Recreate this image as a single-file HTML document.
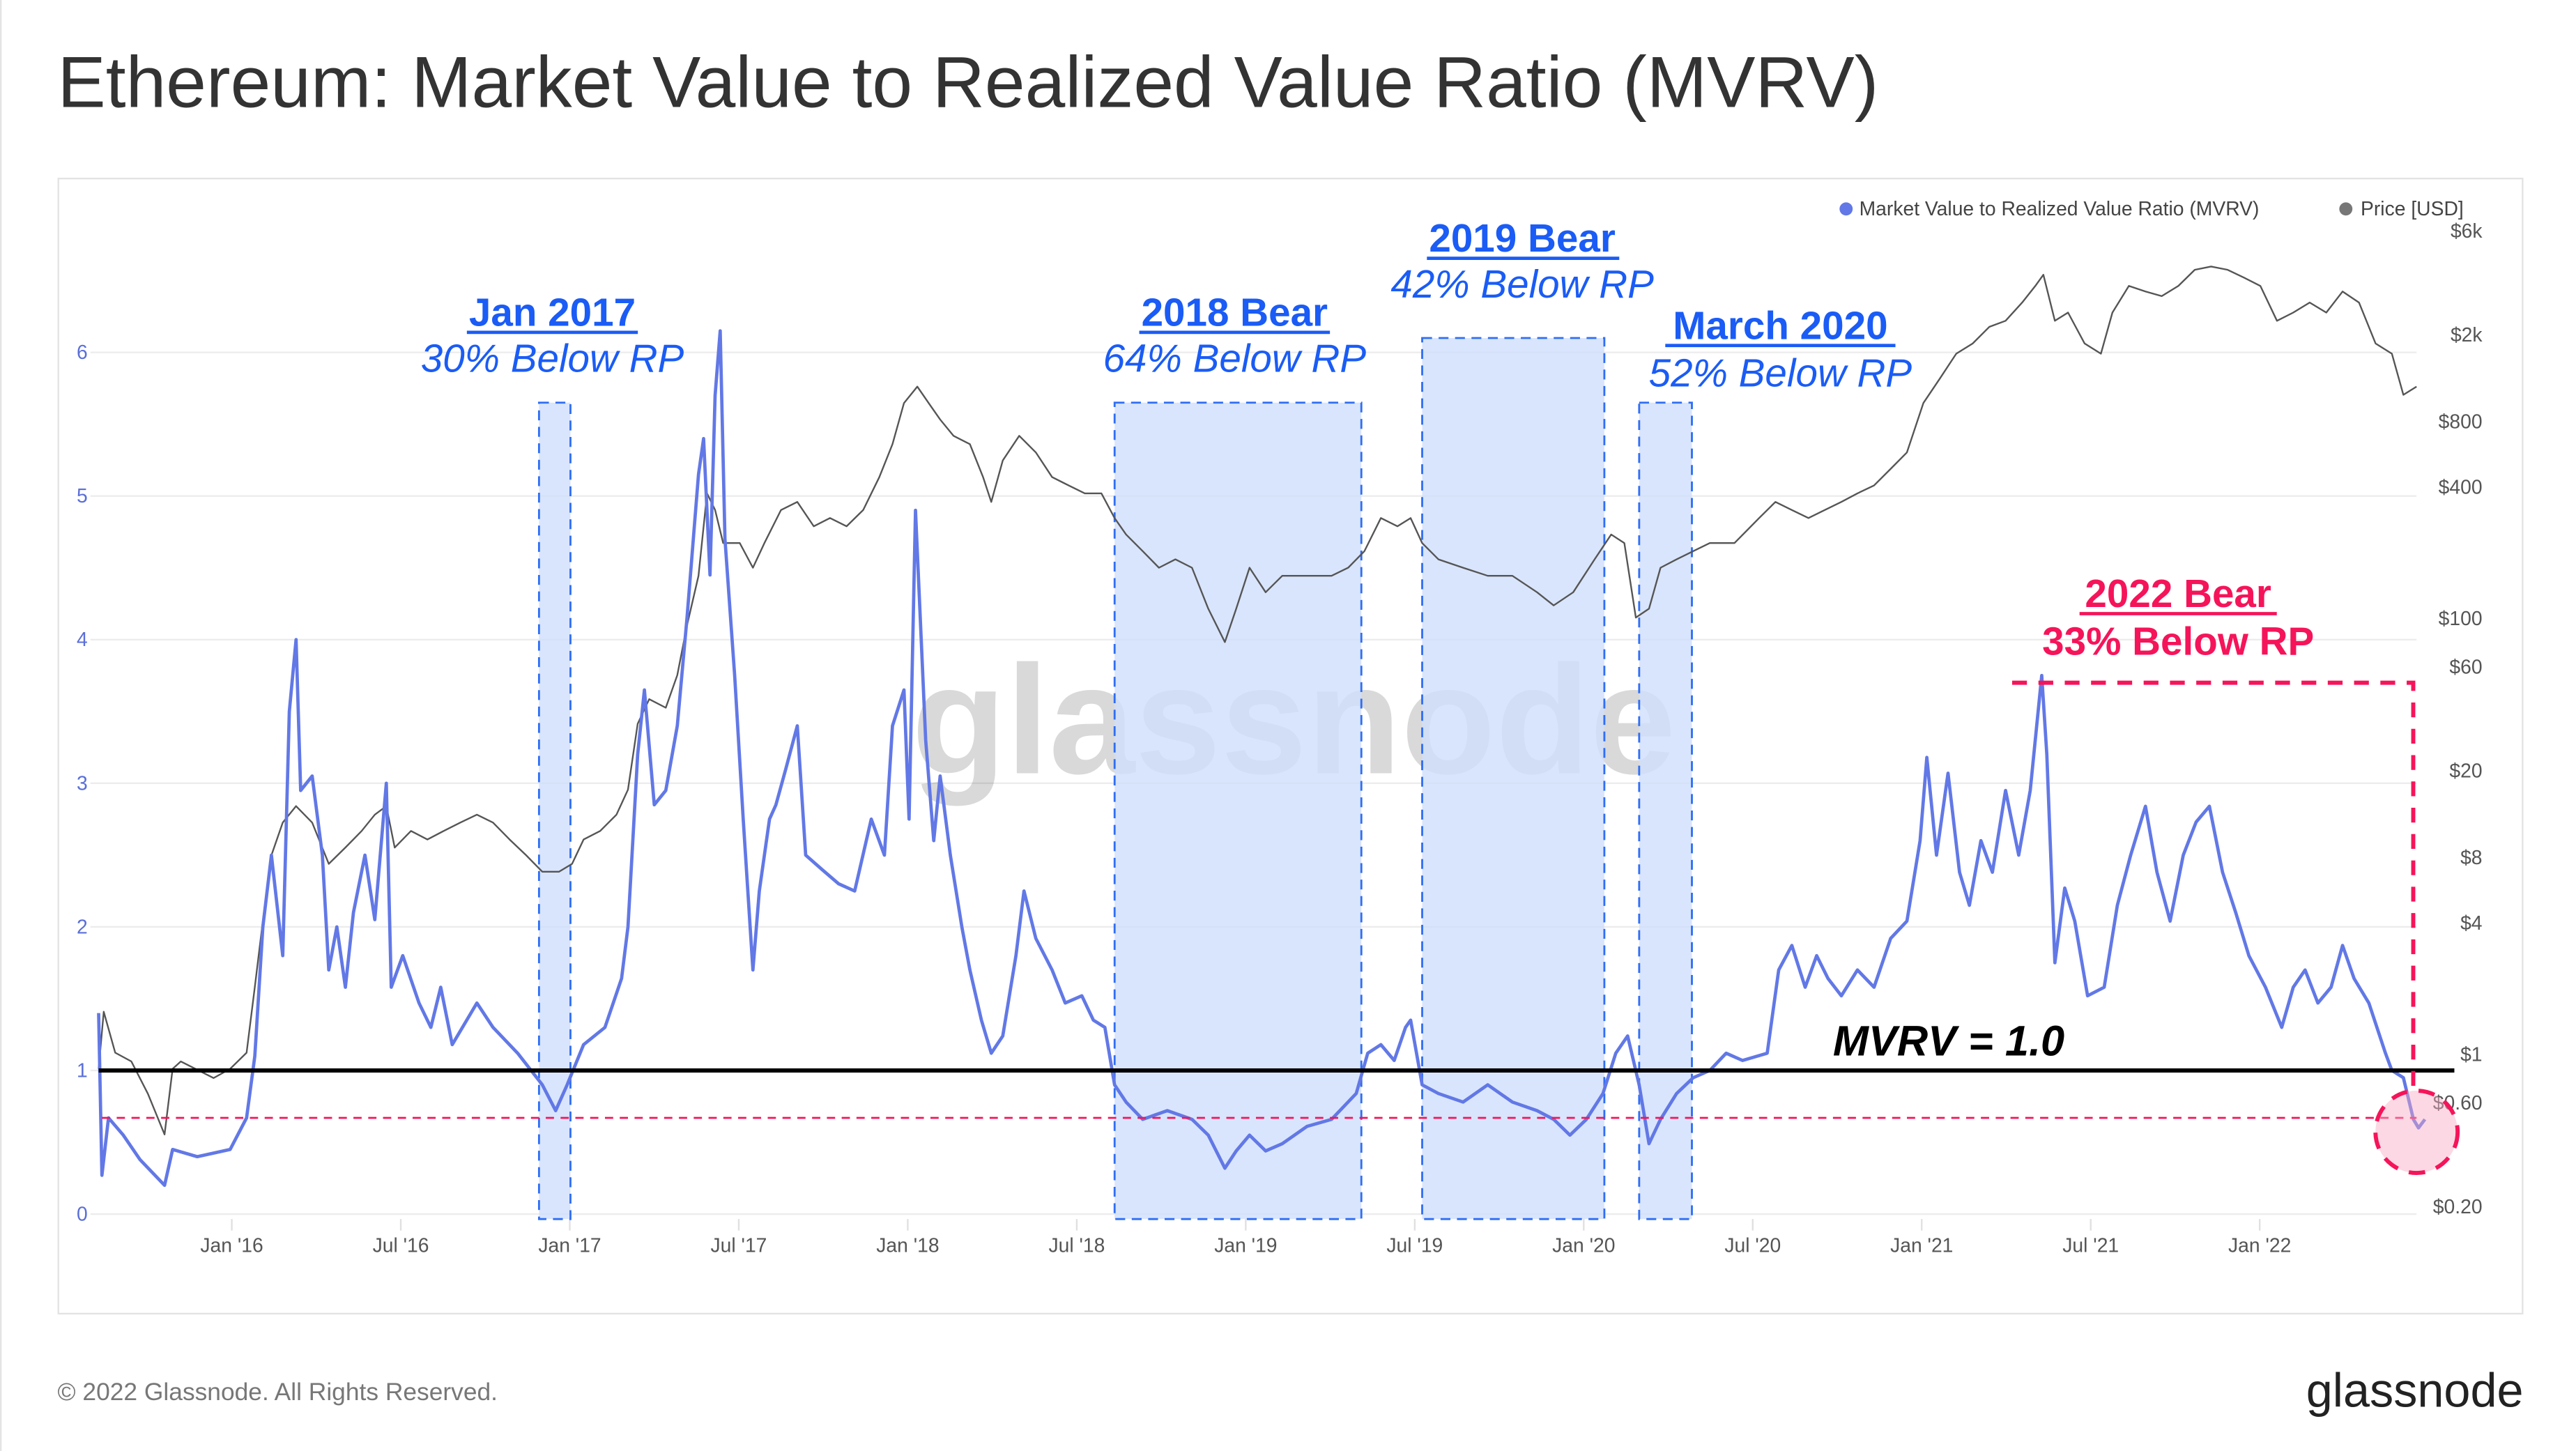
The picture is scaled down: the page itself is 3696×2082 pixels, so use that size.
<!DOCTYPE html>
<html><head><meta charset="utf-8">
<style>
html,body{margin:0;padding:0;background:#fff;}
body{width:3696px;height:2082px;overflow:hidden;}
svg{display:block;font-family:"Liberation Sans",sans-serif;}
</style></head>
<body>
<svg id="chart" width="3696" height="2082" viewBox="0 0 1567 882" preserveAspectRatio="none" xmlns="http://www.w3.org/2000/svg">
<rect x="0" y="0" width="1567" height="882" fill="#fff"/>
<line x1="0.5" y1="0" x2="0.5" y2="882" stroke="#e4e4e4" stroke-width="1"/>
<text x="35" y="65" font-size="44" fill="#333">Ethereum: Market Value to Realized Value Ratio (MVRV)</text>
<rect x="35.5" y="108.5" width="1499" height="690" fill="#fff" stroke="#e3e3e3" stroke-width="1"/>
<g id="grid"></g>
<text x="787" y="470" font-size="94" font-weight="bold" fill="#000" fill-opacity="0.15" text-anchor="middle">glassnode</text>
<g id="boxes"></g>
<g id="series"></g>
<g id="annot">
 <g fill="#1a5cf5" text-anchor="middle" font-size="24">
  <text x="336" y="198" font-weight="bold">Jan 2017</text>
  <line x1="284" y1="202" x2="388" y2="202" stroke="#1a5cf5" stroke-width="2"/>
  <text x="336" y="226" font-style="italic">30% Below RP</text>
 </g>
 <g fill="#1a5cf5" text-anchor="middle" font-size="24">
  <text x="751" y="198" font-weight="bold">2018 Bear</text>
  <line x1="693" y1="202" x2="809" y2="202" stroke="#1a5cf5" stroke-width="2"/>
  <text x="751" y="226" font-style="italic">64% Below RP</text>
 </g>
 <g fill="#1a5cf5" text-anchor="middle" font-size="24">
  <text x="926" y="153" font-weight="bold">2019 Bear</text>
  <line x1="868" y1="157" x2="985" y2="157" stroke="#1a5cf5" stroke-width="2"/>
  <text x="926" y="181" font-style="italic">42% Below RP</text>
 </g>
 <g fill="#1a5cf5" text-anchor="middle" font-size="24">
  <text x="1083" y="206" font-weight="bold">March 2020</text>
  <line x1="1013" y1="210" x2="1153" y2="210" stroke="#1a5cf5" stroke-width="2"/>
  <text x="1083" y="235" font-style="italic">52% Below RP</text>
 </g>
 <g fill="#f5145a" text-anchor="middle" font-size="24" font-weight="bold">
  <text x="1325" y="369">2022 Bear</text>
  <line x1="1265" y1="373" x2="1385" y2="373" stroke="#f5145a" stroke-width="2"/>
  <text x="1325" y="398">33% Below RP</text>
 </g>
</g>
<g id="legend" font-size="12" fill="#444">
 <g><circle cx="1123" cy="127" r="4" fill="#6278e6"/><text x="1131" y="131">Market Value to Realized Value Ratio (MVRV)</text></g>
 <g><circle cx="1427" cy="127" r="4" fill="#777"/><text x="1436" y="131">Price [USD]</text></g>
</g>
<text x="35" y="851" font-size="15" fill="#777">© 2022 Glassnode. All Rights Reserved.</text>
<text x="1535" y="855" font-size="29" fill="#222" text-anchor="end">glassnode</text>
</svg>
<script>
// ---- data ----
const mvrvDates=[2015.606,2015.616,2015.635,2015.679,2015.728,2015.801,2015.825,2015.898,2015.995,2016.044,2016.068,2016.092,2016.117,2016.151,2016.170,2016.190,2016.204,2016.238,2016.268,2016.287,2016.311,2016.336,2016.360,2016.394,2016.423,2016.457,2016.472,2016.506,2016.554,2016.589,2016.618,2016.652,2016.725,2016.773,2016.846,2016.919,2016.958,2016.992,2017.041,2017.104,2017.153,2017.172,2017.201,2017.221,2017.250,2017.284,2017.318,2017.347,2017.381,2017.396,2017.415,2017.430,2017.445,2017.459,2017.488,2017.513,2017.542,2017.561,2017.591,2017.610,2017.639,2017.673,2017.698,2017.746,2017.795,2017.843,2017.892,2017.931,2017.955,2017.989,2018.004,2018.023,2018.038,2018.053,2018.077,2018.096,2018.126,2018.160,2018.184,2018.218,2018.247,2018.281,2018.320,2018.344,2018.379,2018.427,2018.466,2018.515,2018.549,2018.583,2018.612,2018.646,2018.695,2018.768,2018.841,2018.889,2018.938,2018.972,2019.011,2019.059,2019.108,2019.181,2019.254,2019.327,2019.361,2019.400,2019.439,2019.473,2019.488,2019.522,2019.570,2019.643,2019.716,2019.789,2019.862,2019.911,2019.959,2020.008,2020.057,2020.095,2020.130,2020.164,2020.193,2020.227,2020.275,2020.324,2020.373,2020.421,2020.470,2020.543,2020.577,2020.616,2020.655,2020.689,2020.723,2020.762,2020.810,2020.859,2020.908,2020.956,2020.995,2021.015,2021.044,2021.078,2021.112,2021.141,2021.175,2021.209,2021.248,2021.287,2021.321,2021.355,2021.370,2021.394,2021.423,2021.453,2021.491,2021.540,2021.579,2021.618,2021.662,2021.696,2021.735,2021.774,2021.812,2021.851,2021.890,2021.929,2021.968,2022.017,2022.065,2022.099,2022.134,2022.172,2022.211,2022.245,2022.279,2022.323,2022.372,2022.391,2022.425,2022.455,2022.470,2022.489];
const mvrvValues=[1.4,0.27,0.67,0.55,0.38,0.2,0.45,0.4,0.45,0.67,1.1,2.0,2.5,1.8,3.5,4.0,2.95,3.05,2.5,1.7,2.0,1.58,2.1,2.5,2.05,3.0,1.58,1.8,1.47,1.3,1.58,1.18,1.47,1.3,1.12,0.9,0.72,0.9,1.18,1.3,1.64,2.0,3.2,3.65,2.85,2.95,3.4,4.15,5.15,5.4,4.45,5.7,6.15,4.7,3.75,2.75,1.7,2.25,2.75,2.85,3.1,3.4,2.5,2.4,2.3,2.25,2.75,2.5,3.4,3.65,2.75,4.9,4.1,3.3,2.6,3.05,2.5,2.0,1.7,1.35,1.12,1.24,1.8,2.25,1.92,1.7,1.47,1.52,1.35,1.3,0.9,0.78,0.66,0.72,0.66,0.55,0.32,0.44,0.55,0.44,0.49,0.61,0.66,0.84,1.12,1.18,1.07,1.3,1.35,0.9,0.84,0.78,0.9,0.78,0.72,0.66,0.55,0.66,0.84,1.12,1.24,0.9,0.49,0.66,0.84,0.95,1.0,1.12,1.07,1.12,1.7,1.87,1.58,1.8,1.64,1.52,1.7,1.58,1.92,2.04,2.6,3.18,2.5,3.07,2.38,2.15,2.6,2.38,2.95,2.5,2.95,3.75,3.2,1.75,2.27,2.04,1.52,1.58,2.15,2.5,2.84,2.38,2.04,2.5,2.73,2.84,2.38,2.1,1.8,1.58,1.3,1.58,1.7,1.47,1.58,1.87,1.64,1.47,1.12,1.0,0.95,0.66,0.6,0.66];
const priceDates=[2015.606,2015.621,2015.655,2015.703,2015.752,2015.801,2015.825,2015.849,2015.946,2015.995,2016.044,2016.068,2016.092,2016.117,2016.151,2016.190,2016.238,2016.287,2016.336,2016.384,2016.423,2016.457,2016.482,2016.530,2016.579,2016.627,2016.676,2016.725,2016.773,2016.822,2016.871,2016.919,2016.968,2017.007,2017.041,2017.090,2017.138,2017.172,2017.201,2017.235,2017.284,2017.318,2017.347,2017.381,2017.406,2017.430,2017.454,2017.503,2017.542,2017.576,2017.625,2017.673,2017.722,2017.770,2017.819,2017.868,2017.916,2017.955,2017.989,2018.028,2018.062,2018.096,2018.135,2018.184,2018.223,2018.247,2018.281,2018.330,2018.379,2018.427,2018.476,2018.524,2018.573,2018.612,2018.646,2018.695,2018.743,2018.792,2018.841,2018.889,2018.938,2018.972,2019.011,2019.059,2019.108,2019.181,2019.254,2019.303,2019.351,2019.400,2019.449,2019.488,2019.522,2019.570,2019.643,2019.716,2019.789,2019.862,2019.911,2019.969,2020.032,2020.081,2020.120,2020.154,2020.193,2020.227,2020.275,2020.324,2020.373,2020.446,2020.519,2020.567,2020.616,2020.665,2020.713,2020.762,2020.810,2020.859,2020.908,2020.956,2021.005,2021.054,2021.102,2021.151,2021.200,2021.248,2021.297,2021.336,2021.360,2021.394,2021.433,2021.482,2021.530,2021.564,2021.613,2021.662,2021.710,2021.759,2021.808,2021.856,2021.905,2021.954,2022.002,2022.051,2022.099,2022.148,2022.197,2022.245,2022.294,2022.343,2022.391,2022.425,2022.464,2022.479];
const priceValues=[0.86,1.57,1.02,0.93,0.66,0.43,0.86,0.93,0.78,0.86,1.02,2.04,4.1,8.2,11.6,13.8,11.6,7.5,8.9,10.6,12.6,13.8,8.9,10.6,9.7,10.6,11.6,12.6,11.6,9.7,8.2,6.9,6.9,7.5,9.7,10.6,12.6,16.4,32.9,42.7,39,55,93,157,375,315,222,222,171,222,315,343,265,289,265,315,446,631,975,1160,975,819,689,631,446,343,531,689,578,446,408,375,375,289,243,204,171,187,171,111,78,111,171,132,157,157,157,171,204,289,265,289,222,187,171,157,157,132,115,132,187,243,222,101,111,171,187,204,222,222,289,343,315,289,315,343,375,408,486,578,975,1265,1642,1827,2178,2323,2818,3357,3776,2323,2535,1827,1642,2535,3357,3165,3013,3357,3981,4120,3981,3664,3357,2323,2535,2818,2535,3165,2818,1827,1642,1062,1160];
const mvrvTicks=[0,1,2,3,4,5,6];
const priceTicks=[6000,2000,800,400,100,60,20,8,4,1,0.6,0.2];
const priceTickLabels=["$6k","$2k","$800","$400","$100","$60","$20","$8","$4","$1","$0.60","$0.20"];
const xTickDates=[2016,2016.5,2017,2017.5,2018,2018.5,2019,2019.5,2020,2020.5,2021,2021.5,2022];
const xTickLabels=["Jan '16","Jul '16","Jan '17","Jul '17","Jan '18","Jul '18","Jan '19","Jul '19","Jan '20","Jul '20","Jan '21","Jul '21","Jan '22"];
const bearStarts=[2016.909,2018.612,2019.522,2020.164];
const bearEnds=[2017.002,2019.342,2020.061,2020.320];
const bearTops=[5.65,5.65,6.1,5.65];
const refMvrv=1.0;
const bottomMvrv=0.67;

// ---- axes ----
const NS="http://www.w3.org/2000/svg";
const X0=141,PXY=205.6;
function xScale(d){return X0+(d-2016)*PXY;}
function yMvrv(v){return 738-87.3*v;}
function yPrice(p){return 641-132.5*Math.log10(p);}
function mk(tag,attrs,parent){const e=document.createElementNS(NS,tag);for(const k in attrs)e.setAttribute(k,attrs[k]);parent.appendChild(e);return e;}

const grid=document.getElementById('grid');
mvrvTicks.forEach(t=>{
  const l=mk('line',{x1:55,x2:1470,y1:yMvrv(t),y2:yMvrv(t),stroke:'#ececec','stroke-width':1},grid);
  
  
  const tx=mk('text',{x:50,y:yMvrv(t)+4,'font-size':12,fill:'#5a6fd8','text-anchor':'middle'},grid);
  tx.textContent=t;
  
  
});
priceTicks.forEach((p,i)=>{
  const tx=mk('text',{x:1510,y:yPrice(p)+4,'font-size':12,fill:'#555','text-anchor':'end'},grid);
  tx.textContent=priceTickLabels[i];
  
  
});
xTickDates.forEach((d,i)=>{
  const l=mk('line',{x1:xScale(d),x2:xScale(d),y1:741,y2:748,stroke:'#e0e0e0','stroke-width':1},grid);
  
  
  const tx=mk('text',{x:xScale(d),y:761,'font-size':12,fill:'#555','text-anchor':'middle'},grid);
  tx.textContent=xTickLabels[i];
  
  
});

const boxes=document.getElementById('boxes');
bearStarts.forEach((s,i)=>{
  const x1=xScale(s),x2=xScale(bearEnds[i]),y1=yMvrv(bearTops[i]);
  const r=mk('rect',{x:x1,y:y1,width:x2-x1,height:741-y1,fill:'#cfdffb','fill-opacity':0.8,stroke:'#2f6ef5','stroke-width':1.2,'stroke-dasharray':'6 4'},boxes);
  
  
});

const series=document.getElementById('series');
let pd='';priceDates.forEach((d,i)=>{pd+=(i?'L':'M')+xScale(d).toFixed(1)+' '+yPrice(priceValues[i]).toFixed(1);});
const pl=mk('path',{d:pd,fill:'none',stroke:'#555','stroke-width':1,'stroke-linejoin':'round'},series);



let md='';mvrvDates.forEach((d,i)=>{md+=(i?'L':'M')+xScale(d).toFixed(1)+' '+yMvrv(mvrvValues[i]).toFixed(1);});
const ml=mk('path',{d:md,fill:'none',stroke:'#6278e6','stroke-width':2,'stroke-linejoin':'round'},series);



const rl=mk('line',{x1:60,x2:1493,y1:yMvrv(refMvrv),y2:yMvrv(refMvrv),stroke:'#000','stroke-width':2.5},series);


const rlt=mk('text',{x:1115,y:yMvrv(refMvrv)-9,'font-size':26,'font-weight':'bold','font-style':'italic',fill:'#000'},series);
rlt.textContent='MVRV = 1.0';



const bl=mk('line',{x1:62,x2:1470,y1:yMvrv(bottomMvrv),y2:yMvrv(bottomMvrv),stroke:'#f5145a','stroke-width':1.2,'stroke-dasharray':'5 4'},series);



const pk=mk('path',{d:'M1224 415 L1468 415 L1468 660',fill:'none',stroke:'#f5145a','stroke-width':2.5,'stroke-dasharray':'9 7'},series);


const ci=mk('circle',{cx:1470,cy:688,r:25,fill:'#f9a8c4','fill-opacity':0.45,stroke:'#f5145a','stroke-width':2.5,'stroke-dasharray':'10 7'},series);


</script>
</body></html>
